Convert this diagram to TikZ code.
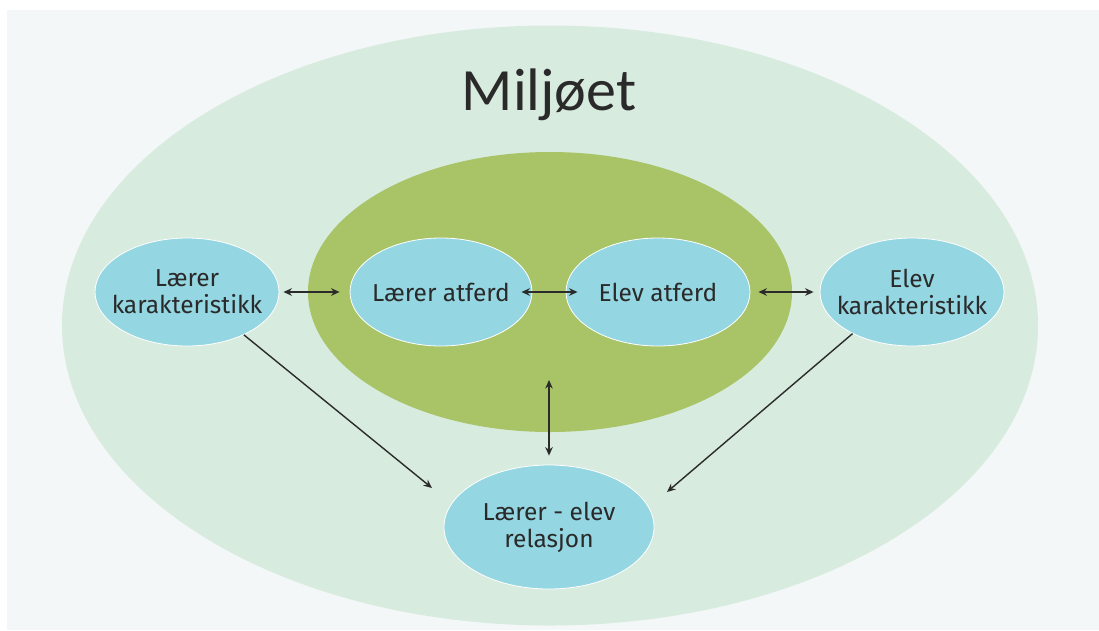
\documentclass[tikz,border=0pt]{standalone}
\usepackage{fontspec}
\setmainfont{Fira Sans}
\newfontfamily\titlefont{Carlito}
\usetikzlibrary{shapes.geometric,arrows.meta,calc}
\definecolor{bgc}{HTML}{F3F7F8}
\definecolor{outerc}{HTML}{D8EBDF}
\definecolor{greenc}{HTML}{A8C466}
\definecolor{bluec}{HTML}{94D6E1}
\definecolor{linec}{HTML}{2B2B2B}
\definecolor{textc}{HTML}{2A2A2A}
\begin{document}
\begin{tikzpicture}[x=1pt,y=-1pt,
  >={Stealth[length=8.5pt,width=7.5pt]},
  blob/.style={ellipse, fill=bluec, draw=white, line width=0.8pt, inner ysep=0pt, inner xsep=-50pt,
    minimum width=184pt, minimum height=108pt, text=textc, align=center,
    font=\fontsize{24.5}{27}\selectfont},
  link/.style={draw=linec, line width=1.4pt},
  area/.style={ellipse, inner sep=0pt}]
\useasboundingbox (0,0) rectangle (1099,630);
\fill[white] (0,0) rectangle (1099,630);
\fill[bgc] (7,10) rectangle (1099,630);
\node[area, fill=outerc, minimum width=976pt, minimum height=600pt] (env) at (550,325.5) {};
\node[anchor=base, font=\titlefont\fontsize{60}{60}\selectfont, text=textc] (title) at (549,110) {Miljøet};
\node[area, fill=greenc, minimum width=484pt, minimum height=280pt] (g) at (550,292) {};
\node[blob] (lk) at (187,292) {Lærer\\karakteristikk};
\node[blob, minimum width=182pt] (la) at (441,292) {Lærer atferd};
\node[blob] (ea) at (658,292) {Elev atferd};
\node[blob] (ek) at (912,292) {Elev\\karakteristikk};
\node[blob, minimum width=210pt, minimum height=124pt] (rel) at (549,527) {Lærer - elev\\relasjon};
\draw[link, <->, shorten <=4pt, shorten >=10pt] (lk.east) -- (la.west);
\draw[link, <->, shorten <=-11pt, shorten >=-12pt] (la.east) -- (ea.west);
\draw[link, <->, shorten <=8pt, shorten >=6pt] (ea.east) -- (ek.west);
\draw[link, <->, shorten <=88pt, shorten >=9pt] (rel.north |- g.center) -- (rel.north);
\coordinate (t1) at (432,488);
\coordinate (t2) at (667,492);
\draw[link, ->] (lk.-37) -- (t1);
\draw[link, ->] (ek.-145) -- (t2);
\end{tikzpicture}
\end{document}
